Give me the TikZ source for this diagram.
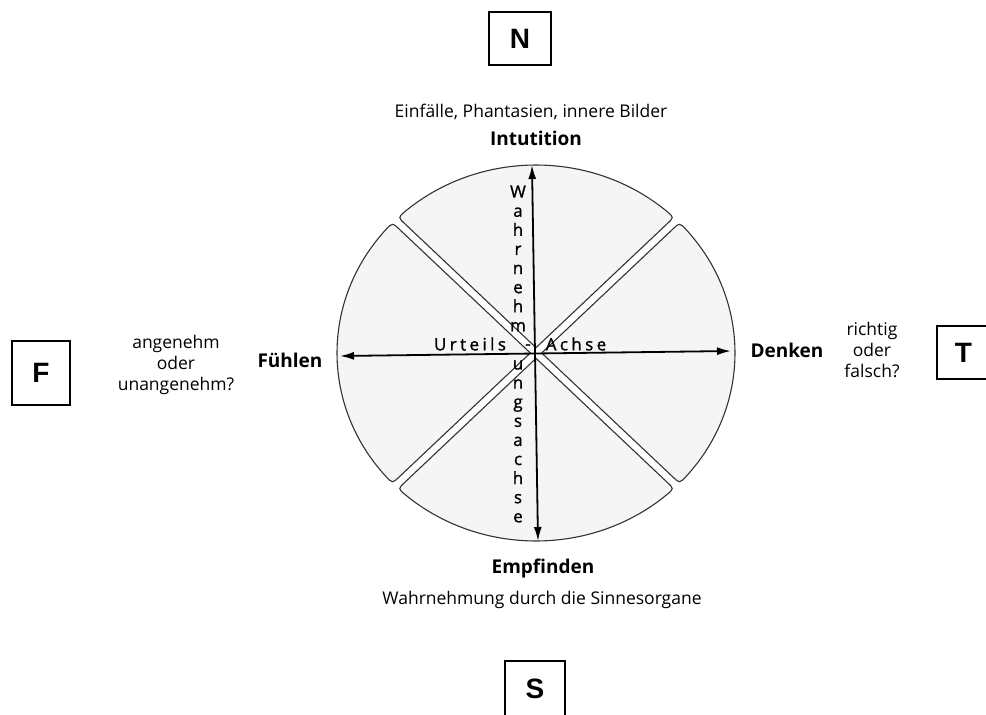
\documentclass[tikz,border=0pt]{standalone}
\usepackage{fontspec}
\setmainfont{Open Sans}
\newfontfamily\boxfont{Liberation Sans}
\newfontfamily\axisfont[FakeBold=1.2]{Open Sans}
\usetikzlibrary{arrows.meta}
\begin{document}
\begin{tikzpicture}[x=1pt,y=1pt,
  sector/.style={draw=black!80, line width=1.1pt, fill=black!4},
  axisline/.style={line width=1.8pt, {Latex[length=14pt,width=8pt]}-{Latex[length=14pt,width=8pt]}},
  letterbox/.style={draw=black, line width=1.2pt, fill=white, inner sep=0pt,
    font=\boxfont\bfseries\fontsize{28}{28}\selectfont},
  plain/.style={font=\fontsize{17.5}{21}\selectfont, inner sep=0pt, align=center},
  heading/.style={font=\bfseries\fontsize{19}{20}\selectfont, inner sep=0pt},
  axislabel/.style={font=\axisfont\fontsize{17}{17}\selectfont\addfontfeature{LetterSpace=20}, inner sep=0pt}
]
\clip (0,0) rectangle (986,-715);
\fill[white] (0,0) rectangle (986,-715);

% sectors
\def\sectorpath{(0,5.66) -- (131.5,137.16) .. controls (137.86,143.52) .. (48.74:199)
  arc[start angle=48.74, end angle=131.26, radius=199]
  .. controls (-137.86,143.52) .. (-131.5,137.16) -- cycle}
\begin{scope}[shift={(536,-353)}, yscale=0.9447]
  \foreach \k in {0,1,2,3}{
    \draw[sector, rotate=90*\k] \sectorpath;
  }
\end{scope}

% vertical text
\node[font=\axisfont\fontsize{17}{19.1}\selectfont, inner sep=0pt, align=center] (vtext) at (518,-354)
  {W\\a\\h\\r\\n\\e\\h\\m\\[19.1pt]u\\n\\g\\s\\a\\c\\h\\s\\e};
% horizontal axis text
\node[axislabel] (urteils) at (470,-344) {Urteils};
\node[axislabel] (dash) at (528,-347) {-};
\node[axislabel] (achse) at (576,-344) {Achse};

% axes
\coordinate (top) at (532,-165);
\coordinate (bottom) at (538,-541);
\coordinate (left) at (340,-356);
\coordinate (right) at (731,-351);
\draw[axisline] (top) -- (bottom);
\draw[axisline] (left) -- (right);

% labels
\node[plain] (einf) at (531,-112) {Einfälle, Phantasien, innere Bilder};
\node[heading] (intu) at (536,-138) {Intutition};
\node[heading] (empf) at (543,-569) {Empfinden};
\node[plain] (wahr) at (542,-600) {Wahrnehmung durch die Sinnesorgane};
\node[heading] (fuehl) at (290,-360) {Fühlen};
\node[plain] (ang) at (176,-365) {angenehm\\oder\\unangenehm?};
\node[heading] (denk) at (787,-350) {Denken};
\node[plain] (richt) at (872,-350) {richtig\\oder\\falsch?};

% letter boxes
\node[letterbox, minimum width=62pt, minimum height=53pt] (N) at (520,-38.5) {N};
\node[letterbox, minimum width=58pt, minimum height=64pt] (F) at (41,-373) {F};
\node[letterbox, minimum width=53pt, minimum height=53pt] (T) at (963.5,-352.5) {T};
\node[letterbox, minimum width=60pt, minimum height=56pt] (S) at (535,-689) {S};
\end{tikzpicture}
\end{document}
